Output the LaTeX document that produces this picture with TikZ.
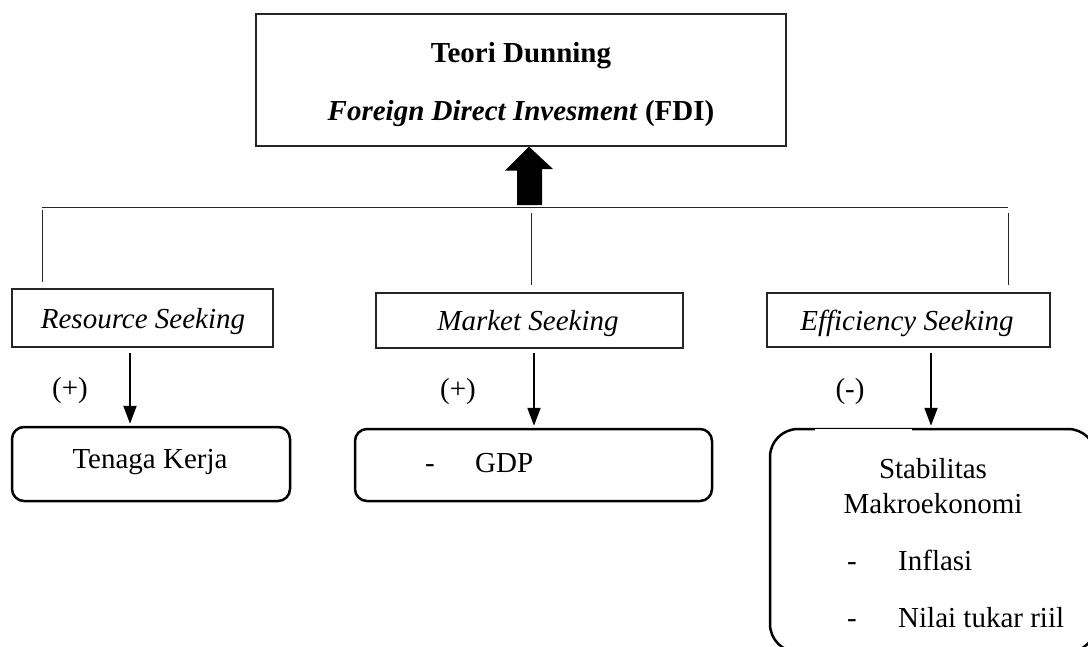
\documentclass[tikz,border=0pt]{standalone}
\usepackage{fontspec}
\setmainfont{Liberation Serif}
\usetikzlibrary{arrows.meta}
\begin{document}
\begin{tikzpicture}[x=1pt,y=-1pt,
  lbl/.style={font=\fontsize{29}{35}\selectfont, inner sep=0pt, anchor=base},
  lblw/.style={lbl, anchor=base west},
  sqbox/.style={draw=black!85, line width=1.3pt, inner sep=0pt},
  rbox/.style={draw=black, line width=2.5pt, rounded corners=12pt, inner sep=0pt},
  conn/.style={line width=1pt, draw=black!85},
  darrow/.style={line width=2pt, -{Triangle[length=18pt,width=13pt]}}]
\useasboundingbox (0,0) rectangle (1088,646);

% top box
\node[sqbox, minimum width=530pt, minimum height=132pt] (top) at (521,80) {};
\node[lbl] (t1) at (521,62) {\textbf{Teori Dunning}};
\node[lbl] (t2) at (521,120) {\textbf{\textit{Foreign Direct Invesment} (FDI)}};

% fat arrow
\coordinate (fa) at (529,205);
\fill (fa) ++(-12,0) -- ++(25,0) -- ++(0,-36) -- ++(11,0) -- (top.south -| fa) -- ++(-24,24) -- ++(12,0) -- cycle;

% seeking boxes
\node[sqbox, minimum width=261pt, minimum height=58pt] (rs) at (142.5,318) {};
\node[sqbox, minimum width=307pt, minimum height=55pt] (ms) at (529.5,320.5) {};
\node[sqbox, minimum width=283pt, minimum height=54pt] (es) at (908.5,320) {};
\node[lbl] (rst) at (143,328) {\textit{Resource Seeking}};
\node[lbl] (mst) at (528,330) {\textit{Market Seeking}};
\node[lbl] (est) at (907,330) {\textit{Efficiency Seeking}};

% connector lines
\coordinate (hl) at (42,207);
\coordinate (hr) at (1008,207);
\draw[conn] (hl) -- (hr);
\coordinate (v1) at (42,210);
\coordinate (v2) at (531,213);
\coordinate (v3) at (1008,213);
\draw[conn] (v1) -- ([yshift=6pt]rs.north -| v1);
\draw[conn] (v2) -- ([yshift=7pt]ms.north -| v2);
\draw[conn] (v3) -- ([yshift=7pt]es.north -| v3);

% result boxes
\node[rbox, minimum width=278pt, minimum height=74pt] (tk) at (151,464) {};
\node[rbox, minimum width=357pt, minimum height=72pt] (gdp) at (533.5,465) {};
\node[rbox, rounded corners=28pt, minimum width=326pt, minimum height=223pt] (sm) at (933,540.5) {};
\draw[white, line width=3pt] (815,429) -- (912,429);
\draw[line width=1pt] (815,428.5) -- (912,428.5);

\node[lbl] (tkt) at (150,468) {Tenaga Kerja};
\node[lbl] (gd) at (430,472) {-};
\node[lblw] (gdt) at (475,472) {GDP};
\node[lbl] (smt1) at (933,478) {Stabilitas};
\node[lbl] (smt2) at (933,513) {Makroekonomi};
\node[lbl] (d1) at (852,570) {-};
\node[lblw] (inf) at (898,570) {Inflasi};
\node[lbl] (d2) at (852,627) {-};
\node[lblw] (ntr) at (898,627) {Nilai tukar riil};

% arrows
\coordinate (a1) at (130,353);
\coordinate (a2) at (534,353);
\coordinate (a3) at (931,353);
\draw[darrow] (a1) -- ([yshift=2pt]tk.north -| a1);
\draw[darrow] (a2) -- ([yshift=2pt]gdp.north -| a2);
\draw[darrow] (a3) -- ([yshift=2pt]sm.north -| a3);

% signs
\node[lbl] (p1) at (70,397) {(+)};
\node[lbl] (p2) at (458,398) {(+)};
\node[lbl] (p3) at (850,398) {(-)};
\end{tikzpicture}
\end{document}
